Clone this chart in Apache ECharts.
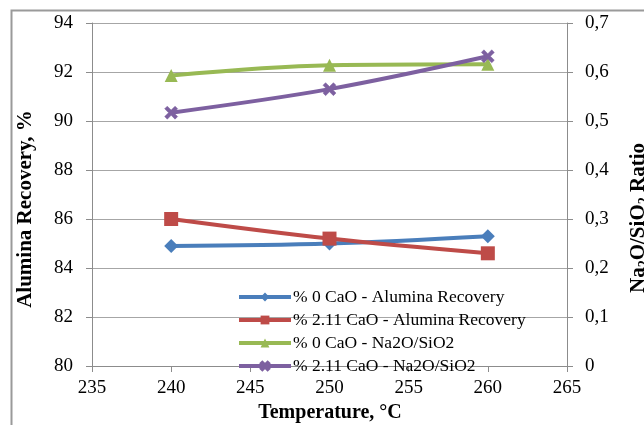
<!DOCTYPE html>
<html>
<head>
<meta charset="utf-8">
<script src="https://cdn.jsdelivr.net/npm/echarts@6/dist/echarts.min.js"></script>
<style>
  html, body { margin: 0; padding: 0; background: #fff; }
  #chart { width: 644px; height: 425px; }
</style>
</head>
<body>
<div id="chart"></div>
<script>
// Temperature (°C) at each test point
const temperatures = [240, 250, 260];
// Alumina recovery, %
const recovery0CaO = [84.9, 85.0, 85.3];
const recovery211CaO = [86.0, 85.2, 84.6];
// Na2O/SiO2 ratio
const ratio0CaO = [0.593, 0.614, 0.616];
const ratio211CaO = [0.517, 0.565, 0.632];

const seriesNames = [
  '% 0 CaO - Alumina Recovery',
  '% 2.11 CaO - Alumina Recovery',
  '% 0 CaO - Na2O/SiO2',
  '% 2.11 CaO - Na2O/SiO2'
];

const FONT = '"Liberation Serif", "Times New Roman", serif';
const crossSymbol = 'path://M2,0 L5,3 L8,0 L10,2 L7,5 L10,8 L8,10 L5,7 L2,10 L0,8 L3,5 L0,2 Z';

const pair = (xs, ys) => xs.map((x, i) => [x, ys[i]]);

const chart = echarts.init(document.getElementById('chart'), null, { renderer: 'canvas' });

const axisLine = { show: true, lineStyle: { color: '#8c8c8c', width: 1 } };
const axisTick = { show: true, length: 6, lineStyle: { color: '#8c8c8c' } };

function lineSeries(name, data, color, symbol, size, yIndex) {
  return {
    name: name,
    type: 'line',
    yAxisIndex: yIndex,
    data: data,
    smooth: 0.35,
    symbol: symbol,
    symbolSize: size,
    showSymbol: true,
    lineStyle: { color: color, width: 4 },
    itemStyle: { color: color, borderColor: color, borderWidth: symbol === crossSymbol ? 0.5 : 0 },
    emphasis: { disabled: true },
    z: 3
  };
}

chart.setOption({
  animation: false,
  backgroundColor: '#fff',
  textStyle: { fontFamily: FONT },
  grid: { left: 92, right: 77, top: 23, bottom: 59, containLabel: false, outerBoundsMode: 'none' },
  graphic: [{
    type: 'rect',
    shape: { x: 11.5, y: 10.5, width: 700, height: 500 },
    style: { fill: 'none', stroke: '#9a9a9a', lineWidth: 2 },
    silent: true
  }, {
    // left axis title
    type: 'text',
    x: 26, y: 209,
    rotation: Math.PI / 2,
    style: {
      text: 'Alumina Recovery, %',
      font: 'bold 21px ' + FONT,
      fill: '#000',
      align: 'center',
      verticalAlign: 'middle'
    },
    silent: true
  }, {
    // right axis title with subscripts
    type: 'text',
    x: 639, y: 218,
    rotation: Math.PI / 2,
    style: {
      text: '{b|Na}{s|2}{b|O/SiO}{s|2}{b| Ratio}',
      font: 'bold 21px ' + FONT,
      fill: '#000',
      align: 'center',
      verticalAlign: 'middle',
      rich: {
        b: { font: 'bold 21px ' + FONT, fill: '#000', lineHeight: 24, verticalAlign: 'middle' },
        s: { font: 'bold 14px ' + FONT, fill: '#000', lineHeight: 24, verticalAlign: 'bottom', padding: [8, 0, 0, 0] }
      }
    },
    silent: true
  }, {
    // x axis title
    type: 'text',
    x: 330, y: 413,
    style: {
      text: 'Temperature, °C',
      font: 'bold 20px ' + FONT,
      fill: '#000',
      align: 'center',
      verticalAlign: 'middle'
    },
    silent: true
  }],
  legend: {
    orient: 'vertical',
    left: 232,
    top: 283,
    itemWidth: 52,
    itemHeight: 11,
    itemGap: 5,
    data: seriesNames,
    lineStyle: { width: 4 },
    textStyle: { fontFamily: FONT, fontSize: 17.5, lineHeight: 17, color: '#000', padding: [0, 0, 0, -3] }
  },
  xAxis: {
    type: 'value',
    min: 235,
    max: 265,
    interval: 5,
    axisLine: axisLine,
    axisTick: axisTick,
    axisLabel: { fontFamily: FONT, fontSize: 19, color: '#000', margin: 13 },
    splitLine: { show: false }
  },
  yAxis: [{
    type: 'value',
    position: 'left',
    min: 80,
    max: 94,
    interval: 2,
    axisLine: axisLine,
    axisTick: axisTick,
    axisLabel: { fontFamily: FONT, fontSize: 19, color: '#000', margin: 19 },
    splitLine: { show: true, lineStyle: { color: '#a6a6a6', width: 1 } }
  }, {
    type: 'value',
    position: 'right',
    min: 0,
    max: 0.7,
    interval: 0.1,
    axisLine: axisLine,
    axisTick: axisTick,
    axisLabel: {
      fontFamily: FONT, fontSize: 19, color: '#000', margin: 18,
      formatter: v => (Math.round(v * 10) / 10).toString().replace('.', ',')
    },
    splitLine: { show: false }
  }],
  series: [
    lineSeries(seriesNames[0], pair(temperatures, recovery0CaO), '#4a7ebb', 'diamond', 14, 0),
    lineSeries(seriesNames[1], pair(temperatures, recovery211CaO), '#be4b48', 'rect', 14, 0),
    lineSeries(seriesNames[2], pair(temperatures, ratio0CaO), '#98b954', 'triangle', 13, 1),
    lineSeries(seriesNames[3], pair(temperatures, ratio211CaO), '#7d60a0', crossSymbol, 13, 1)
  ]
});
</script>
</body>
</html>
